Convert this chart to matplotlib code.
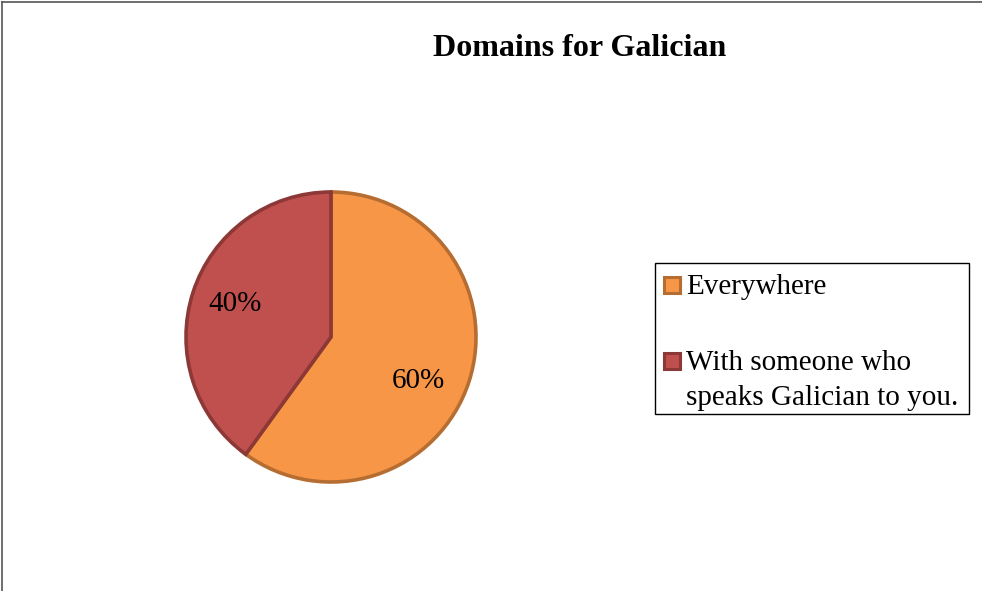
import matplotlib
matplotlib.use("Agg")
import matplotlib.pyplot as plt
from matplotlib.patches import Rectangle
from matplotlib.lines import Line2D

categories = ["Everywhere", "With someone who\nspeaks Galician to you."]
shares = [60, 40]
fill_colors = ["#f79646", "#c0504d"]
edge_colors = ["#b66d31", "#8c3836"]

plt.rcParams["font.family"] = ["Liberation Serif", "DejaVu Serif"]

W, H = 982, 591
fig = plt.figure(figsize=(W / 100, H / 100), dpi=100)
fig.patch.set_facecolor("white")


def fx(px):
    return px / W


def fy(py):
    return 1 - py / H


# outer chart frame: only the left and top edges fall inside the image
fig.add_artist(Line2D([fx(1.5), fx(1.5)], [0, fy(1.5)], transform=fig.transFigure,
                      color="#555555", lw=1.2))
fig.add_artist(Line2D([fx(1.5), 1], [fy(1.5), fy(1.5)], transform=fig.transFigure,
                      color="#555555", lw=1.2))

cx, cy, r = 331, 337, 145
ax = fig.add_axes([fx(cx - r), fy(cy + r), 2 * r / W, 2 * r / H])

wedges, texts, autotexts = ax.pie(
    shares, startangle=90, counterclock=False, colors=fill_colors,
    autopct="%1.0f%%", pctdistance=0.68,
    wedgeprops=dict(linewidth=2.6, joinstyle="miter"),
    textprops=dict(fontsize=21, color="black"),
)
for w, ec in zip(wedges, edge_colors):
    w.set_edgecolor(ec)
    w.set_clip_on(False)
ax.set_xlim(-1, 1)
ax.set_ylim(-1, 1)
ax.set_aspect("equal")

autotexts[0].set_position((0.60, -0.30))
autotexts[1].set_position((-0.66, 0.23))

fig.text(fx(580), fy(56), "Domains for Galician", ha="center", va="baseline",
         fontsize=23, fontweight="bold")

# legend drawn as a plain framed box with swatches and labels
fig.add_artist(Rectangle((fx(655), fy(414)), fx(969) - fx(655), fy(263) - fy(414),
                         transform=fig.transFigure, facecolor="white",
                         edgecolor="black", linewidth=1.0))
entry_baselines = [294, 370]
line_step = 35
for base, label, fc, ec in zip(entry_baselines, categories, fill_colors, edge_colors):
    fig.add_artist(Rectangle((fx(664), fy(base - 1)), fx(16), 16 / H,
                             transform=fig.transFigure, facecolor=fc,
                             edgecolor=ec, linewidth=2.2))
    for i, line in enumerate(label.split("\n")):
        fig.text(fx(686), fy(base + i * line_step), line, ha="left",
                 va="baseline", fontsize=21)

fig.savefig("out.png", dpi=100)
